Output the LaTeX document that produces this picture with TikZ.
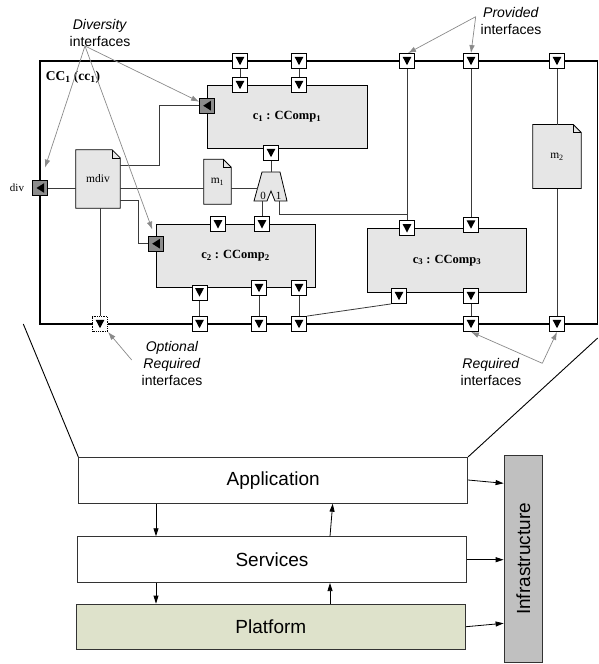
\documentclass[tikz,border=0pt]{standalone}
\usepackage{fontspec}
\setmainfont{Liberation Serif}
\setsansfont{Liberation Sans}
\usetikzlibrary{arrows.meta,backgrounds}
\definecolor{compfill}{HTML}{E6E6E6}
\definecolor{divfill}{HTML}{8C8C8C}
\definecolor{annotc}{HTML}{8A8A8A}
\definecolor{platfill}{HTML}{DEE2CB}
\definecolor{infrafill}{HTML}{C0C0C0}
\definecolor{connc}{HTML}{3A3A3A}
\newcommand\docshape[1]{%
  \begin{scope}[on background layer]
    \filldraw[fill=compfill, draw=black, line width=0.8pt]
      (#1.south west) -- (#1.north west) -- ([xshift=-8pt]#1.north east)
      -- ([yshift=-8pt]#1.north east) -- (#1.south east) -- cycle;
    \draw[line width=0.6pt] ([xshift=-8pt]#1.north east)
      -- ([xshift=-8pt,yshift=-8pt]#1.north east) -- ([yshift=-8pt]#1.north east);
  \end{scope}}
\begin{document}
\begin{tikzpicture}[x=1pt,y=-1pt,
  every node/.style={inner sep=0pt},
  pport/.style={draw, fill=white, minimum size=15pt, line width=0.8pt,
    path picture={\fill[black] ([xshift=-4.4pt,yshift=4.2pt]path picture bounding box.center)
      -- ++(8.8pt,0pt) -- ++(-4.4pt,-8.4pt) -- cycle;}},
  optport/.style={pport, densely dotted, line width=1.2pt},
  divport/.style={draw, fill=divfill, minimum size=15pt, line width=0.8pt,
    path picture={\fill[black] ([xshift=-3.8pt]path picture bounding box.center)
      -- ++(7.6pt,4.8pt) -- ++(0pt,-9.6pt) -- cycle;}},
  comp/.style={draw, fill=compfill, line width=0.8pt, font=\fontsize{12.5}{14}\selectfont\bfseries},
  doc/.style={font=\fontsize{11.5}{13}\selectfont},
  annot/.style={font=\sffamily\fontsize{14}{17}\selectfont, align=center},
  annarrow/.style={draw=annotc, line width=0.7pt, -{Latex[length=8pt,width=5.5pt]}},
  layer/.style={draw=black!80, line width=0.8pt, font=\sffamily\fontsize{19}{22}\selectfont},
  larrow/.style={draw=black, line width=0.8pt, -{Triangle[length=8pt,width=5pt]}},
  connl/.style={draw=connc, line width=0.8pt}
]
\useasboundingbox (0,0) rectangle (599,664);

% composite component border
\node[draw, line width=1.3pt, minimum width=557.5pt, minimum height=263pt] (cc1) at (318.75,192.5) {};
\node[font=\bfseries\fontsize{13.5}{16}\selectfont] (cc1lbl) at (73,77.5) {CC\textsubscript{1} (cc\textsubscript{1})};

% components
\node[comp, minimum width=160pt, minimum height=63pt] (c1) at (287,116.5) {c\textsubscript{1} : CComp\textsubscript{1}};
\node[comp, minimum width=159pt, minimum height=63.4pt] (c2) at (235.5,256) {c\textsubscript{2} : CComp\textsubscript{2}};
\node[comp, minimum width=159.4pt, minimum height=63.7pt] (c3) at (447,260.2) {c\textsubscript{3} : CComp\textsubscript{3}};

% documents
\node[doc, minimum width=44pt, minimum height=58pt] (mdiv) at (98,179) {mdiv};
\docshape{mdiv}
\node[doc, minimum width=27pt, minimum height=44.7pt] (m1) at (217.5,181.7) {m\textsubscript{1}};
\docshape{m1}
\node[doc, minimum width=48pt, minimum height=63.6pt] (m2) at (557,156.5) {m\textsubscript{2}};
\docshape{m2}

% multiplexer
\coordinate (muxtop) at (271,172);
\coordinate (muxin) at (257.6,188);
\coordinate (mux0) at (262,201);
\coordinate (mux1) at (279.3,201);
\filldraw[fill=compfill, draw=black, line width=0.8pt]
  (262,172) -- (280,172) -- (287,201) -- (275,201) -- (271,191) -- (267,201) -- (254,201) -- cycle;
\node[doc, font=\fontsize{11}{13}\selectfont] (mux0lbl) at (263,196) {0};
\node[doc, font=\fontsize{11}{13}\selectfont] (mux1lbl) at (278.5,196) {1};

% connectors inside CC1
\draw[connl] (mux1) |- (407,214);
\draw[connl] (407,61) -- (407,228);
\draw[connl] (471,61) -- (471,224);
\draw[connl] (240,61) -- (240,85);
\draw[connl] (299,61) -- (299,85);
\draw[connl] (271,153) -- (muxtop);
\draw[connl] (mux0) -- (262,224);
\draw[connl] (557,61) -- (m2);
\draw[connl] (m2) -- (557,324);
\draw[connl] (199.5,292) -- (199.5,324);
\draw[connl] (259,288) -- (259,324);
\draw[connl] (299,288) -- (299,324);
\draw[connl] (471,296) -- (471,324);

% ports: outer top
\node[pport] (tp1) at (240,61) {};
\node[pport] (tp2) at (299,61) {};
\node[pport] (tp3) at (407,61) {};
\node[pport] (tp4) at (471,61) {};
\node[pport] (tp5) at (557,61) {};
% c1 ports
\node[pport] (c1t1) at (240,85) {};
\node[pport] (c1t2) at (299,85) {};
\node[pport] (c1b) at (271,153) {};
\node[divport] (c1d) at (207,105.7) {};
% c2 ports
\node[pport] (c2t1) at (218,224.3) {};
\node[pport] (c2t2) at (262,224.3) {};
\node[divport] (c2d) at (156,243.7) {};
\node[pport] (c2b1) at (199.5,292.4) {};
\node[pport] (c2b2) at (259,288) {};
\node[pport] (c2b3) at (299,288) {};
% c3 ports
\node[pport] (c3t1) at (407,228.3) {};
\node[pport] (c3t2) at (471,224.5) {};
\node[pport] (c3b1) at (399,296) {};
\node[pport] (c3b2) at (471,296) {};
% outer bottom ports
\node[optport] (bp0) at (100,324) {};
\node[pport] (bp1) at (199.5,324) {};
\node[pport] (bp2) at (259,324) {};
\node[pport] (bp3) at (299,324) {};
\node[pport] (bp4) at (471,324) {};
\node[pport] (bp5) at (557,324) {};
% diversity port
\node[divport] (divp) at (40.3,188) {};
\node[doc, font=\fontsize{11}{13}\selectfont] (divlbl) at (17,188) {div};

% remaining connectors
\draw[connl] (c3b1.south west) -- (bp3.north east);
\draw[connl] (divp) -- (mdiv.west |- divp);
\draw[connl] (mdiv.east |- divp) -- (m1.west |- divp);
\draw[connl] (m1.east |- divp) -- (muxin);
\draw[connl] (mdiv.east |- 0,165.7) -| (159.3,105.7) -- (c1d);
\draw[connl] (mdiv.east |- 0,200.7) -| (138,243.7) -- (c2d);
\draw[connl] (mdiv.south -| 100,0) -- (bp0);

% annotations
\node[annot] (divtxt) at (100,33) {\textit{Diversity}\\interfaces};
\coordinate (divsrc) at (85,46);
\draw[annarrow] (divsrc) -- ([shift={(4.7pt,12.5pt)}]divp.north);
\draw[annarrow] (divsrc) -- ([yshift=4pt]c1d.west);
\draw[annarrow] (divsrc) -- ([shift={(4.2pt,6.2pt)}]c2d.north west);

\node[annot] (provtxt) at (511,21) {\textit{Provided}\\interfaces};
\coordinate (provsrc) at (475.7,16.7);
\draw[annarrow] (provsrc) -- ([xshift=1pt]tp3.north);
\draw[annarrow] (provsrc) -- (tp4.north);

\node[annot] (opttxt) at (172,363.5) {\textit{Optional}\\\textit{Required}\\interfaces};
\coordinate (optsrc) at (131.7,360);
\draw[annarrow] (optsrc) -- (bp0.south east);

\node[annot] (reqtxt) at (491,371.5) {\textit{Required}\\interfaces};
\coordinate (reqsrc) at (542.3,363.3);
\draw[annarrow] (reqsrc) -- (bp4.south);
\draw[annarrow] (reqsrc) -- (bp5.south);

% layered architecture
\node[layer, minimum width=389pt, minimum height=46pt] (app) at (273.2,480.3) {Application};
\node[layer, minimum width=389.4pt, minimum height=46pt] (services) at (272,559.7) {Services};
\node[layer, fill=platfill, minimum width=389.7pt, minimum height=45.3pt] (platform) at (270.85,626.65) {Platform};
\node[layer, fill=infrafill, minimum width=38.7pt, minimum height=206.6pt] (infra) at (523.35,559) {\rotatebox{90}{Infrastructure}};

\draw[larrow] (app.south -| 156,0) -- (services.north -| 156,0);
\draw[larrow] (services.north -| 330,0) -- (app.south -| 332.7,0);
\draw[larrow] (services.south -| 156,0) -- (platform.north -| 156,0);
\draw[larrow] (platform.north -| 330,0) -- (services.south -| 330,0);
\draw[larrow] (app.east |- 0,480) -- (infra.west |- 0,483.3);
\draw[larrow] (services.east) -- (infra.west |- services.east);
\draw[larrow] (platform.east |- 0,626.7) -- (infra.west |- 0,623.3);

% zoom lines
\coordinate (zl) at (23.3,324);
\coordinate (zr) at (597.7,338);
\draw[line width=0.9pt] (zl) -- (app.north west);
\draw[line width=0.9pt] (zr) -- (app.north east);
\end{tikzpicture}
\end{document}
